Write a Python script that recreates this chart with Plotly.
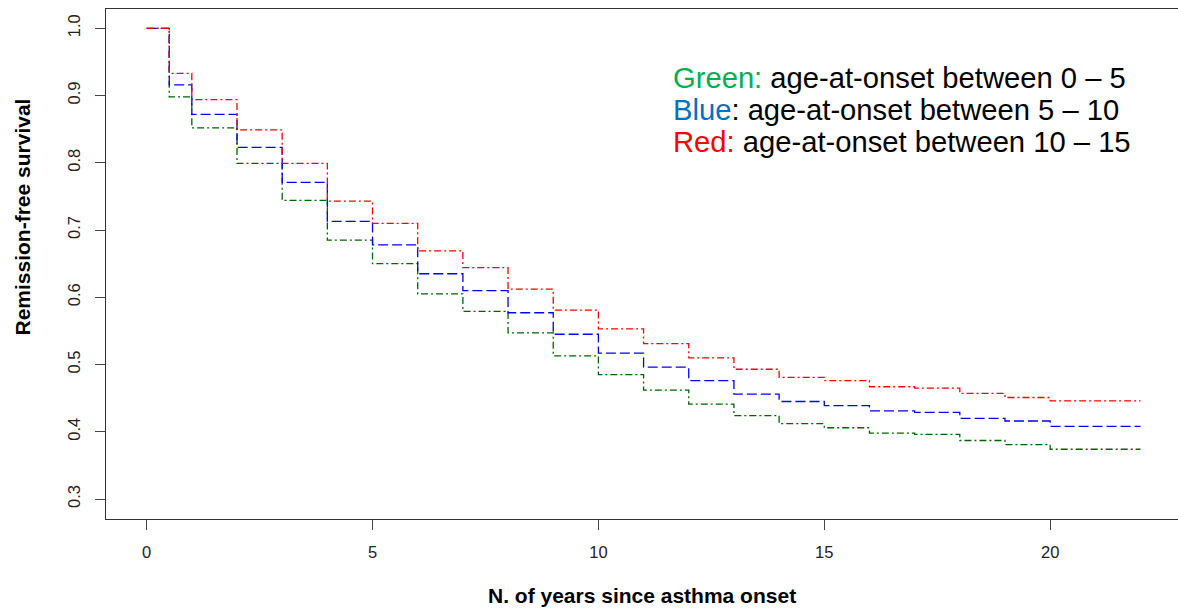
import plotly.graph_objects as go

# Years since asthma onset at which the survival curves step down
years = [0, 0.5, 1, 2, 3, 4, 5, 6, 7, 8, 9, 10, 11, 12, 13, 14, 15, 16, 17, 18, 19, 20, 22]

# Remission-free survival by age-at-onset group
surv_0_5 = [1.0, 0.898, 0.852, 0.799, 0.744, 0.685, 0.650, 0.605, 0.579, 0.547, 0.513, 0.485,
            0.462, 0.441, 0.424, 0.412, 0.406, 0.398, 0.396, 0.387, 0.381, 0.374, 0.374]
surv_5_10 = [1.0, 0.916, 0.872, 0.823, 0.771, 0.713, 0.678, 0.635, 0.610, 0.577, 0.545, 0.517,
             0.496, 0.476, 0.456, 0.445, 0.439, 0.431, 0.429, 0.420, 0.416, 0.408, 0.408]
surv_10_15 = [1.0, 0.933, 0.894, 0.849, 0.799, 0.743, 0.710, 0.669, 0.644, 0.612, 0.581, 0.553,
              0.531, 0.510, 0.493, 0.481, 0.476, 0.467, 0.465, 0.457, 0.451, 0.446, 0.446]

x_ticks = [0, 5, 10, 15, 20]
y_ticks = [0.3, 0.4, 0.5, 0.6, 0.7, 0.8, 0.9, 1.0]

fig = go.Figure()
curves = [
    (surv_0_5, "#006400", "7px,3px,2px,3px"),
    (surv_5_10, "#0000FF", "10px,4px"),
    (surv_10_15, "#FF0000", "7px,3px,2px,3px"),
]
for vals, color, dash in curves:
    fig.add_trace(go.Scatter(
        x=years, y=vals, mode="lines", line_shape="hv",
        line=dict(color=color, width=1.3, dash=dash),
        showlegend=False, hoverinfo="skip",
    ))

W, H = 1178, 608
L, R, T, B = 106, 0, 9, 89
pw, ph = W - L - R, H - T - B

def px_x(p):
    return (p - L) / pw

def px_y(p):
    return (H - B - p) / ph

axis_font = dict(family="Liberation Sans, Arial, sans-serif", size=16.5, color="#222222")

fig.update_layout(
    width=W, height=H,
    margin=dict(l=L, r=R, t=T, b=B),
    paper_bgcolor="white", plot_bgcolor="white",
    xaxis=dict(
        range=[-0.9, 22.83], tickmode="array", tickvals=x_ticks,
        ticktext=[str(v) for v in x_ticks],
        showgrid=False, zeroline=False,
        showline=True, mirror=True, linecolor="#333333", linewidth=1.2,
        ticks="outside", ticklen=10, tickwidth=1, tickcolor="#444444",
        tickfont=axis_font, ticklabelstandoff=8,
    ),
    yaxis=dict(
        range=[0.2703, 1.0287], tickmode="array", tickvals=y_ticks,
        ticktext=[f"{v:.1f}" for v in y_ticks], tickangle=-90,
        showgrid=False, zeroline=False,
        showline=True, mirror=False, linecolor="#333333", linewidth=1.2,
        ticks="outside", ticklen=10, tickwidth=1, tickcolor="#444444",
        tickfont=axis_font, ticklabelstandoff=8,
    ),
)

title_font = dict(family="Liberation Sans, Arial, sans-serif", size=21, color="black")
fig.add_annotation(
    text="<b>N. of years since asthma onset</b>", xref="paper", yref="paper",
    x=px_x(642), y=px_y(595), xanchor="center", yanchor="middle",
    showarrow=False, font=title_font,
)
fig.add_annotation(
    text="<b>Remission-free survival</b>", xref="paper", yref="paper",
    x=px_x(21.5), y=px_y(217), xanchor="center", yanchor="middle", textangle=-90,
    showarrow=False, font=title_font,
)

legend_font = dict(family="Liberation Sans, Arial, sans-serif", size=29.2, color="black")
legend_lines = [
    ("<span style='color:#00B050'>Green:</span> age-at-onset between 0 – 5", 78),
    ("<span style='color:#0070C0'>Blue</span>: age-at-onset between 5 – 10", 110),
    ("<span style='color:#FF0000'>Red:</span> age-at-onset between 10 – 15", 142),
]
for txt, yc in legend_lines:
    fig.add_annotation(
        text=txt, xref="paper", yref="paper", x=px_x(671), y=px_y(yc),
        xanchor="left", yanchor="middle", showarrow=False, font=legend_font,
    )

fig.write_html("out.html")
